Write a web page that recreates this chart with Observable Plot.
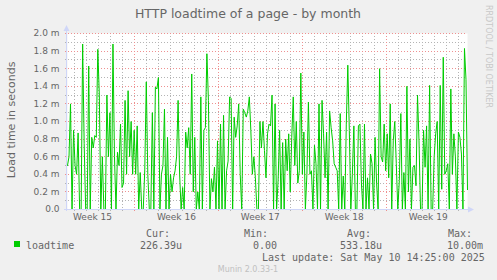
<!DOCTYPE html>
<html><head><meta charset="utf-8">
<script src="https://cdn.jsdelivr.net/npm/d3@7"></script>
<script src="https://cdn.jsdelivr.net/npm/@observablehq/plot@0.6"></script>
<style>
html,body{margin:0;padding:0;background:#f0f0f0;overflow:hidden;}
#chart{width:497px;height:280px;}
svg{display:block;}
</style></head><body><div id="chart"></div>
<script>
// ---- chart text ----
const title = "HTTP loadtime of a page - by month";
const yLabel = "Load time in seconds";
const seriesName = "loadtime";
const watermark = "RRDTOOL / TOBI OETIKER";
const statHeaders = ["Cur:", "Min:", "Avg:", "Max:"];
const statValues = ["226.39u", "0.00", "533.18u", "10.00m"];
const lastUpdate = "Last update: Sat May 10 14:25:00 2025";
const version = "Munin 2.0.33-1";

// ---- time axis ----
const start = new Date(2025, 3, 7, 10, 0);
const stepMinutes = 182;
const weekLabels = ["Week 15", "Week 16", "Week 17", "Week 18", "Week 19"];
const weekLabelTimes = [new Date(2025,3,9,12), new Date(2025,3,16,12), new Date(2025,3,23,12), new Date(2025,3,30,12), new Date(2025,4,7,12)];
const weekLines = [new Date(2025,3,13), new Date(2025,3,20), new Date(2025,3,27), new Date(2025,4,4)];

// ---- y axis ticks (milliseconds) ----
const yTicks = [0, 0.2, 0.4, 0.6, 0.8, 1.0, 1.2, 1.4, 1.6, 1.8, 2.0];
const yMinor = [0.1, 0.3, 0.5, 0.7, 0.9, 1.1, 1.3, 1.5, 1.7, 1.9];

// ---- series: loadtime in ms ----
const loadtime = [
 0.5,0.6,1.2,0,0.9,0.5,0.4,0.87,0,0,
 1.88,0.75,0,0,1.63,0,0.82,0.7,0.84,0.82,
 1.82,1.3,0,0.6,0,0,1.3,0.6,1.1,0,
 1.88,0.6,0,0.65,0.5,0.97,0.25,0.3,1.24,0.4,
 1.35,0.6,1.0,0.4,0.9,
 0.4,0.95,0,0.42,0,0,0.45,1.45,0.4,0,
 0,1.1,0,1.39,1.37,1.5,0,0.4,0.5,1.14,
 0,0.82,0,0.4,0.2,0.36,0.44,0.6,1.24,0.4,
 0,0.25,0,0.88,0.7,0.93,0.4,1.54,0.2,0.82,
 0,0.2,0,1.28,
 0,0.9,0.93,1.77,1.24,0,0.35,0.2,0.48,0,
 0.78,0,0.97,0,1.07,0,0.44,0.55,1.28,1.26,
 0,1.05,0.82,0.95,1.2,0.4,0,1.14,1.1,1.05,
 1.12,1.28,0.9,0.4,0.6,0.36,0,0,1.0,0.7,
 1.0,0.67,0.36,0.86,0.97,
 0.95,1.3,0,1.2,0,0.33,0.9,0,0.76,0,
 0.8,0.44,0.86,0.2,0.82,1.28,0.5,1.0,0.3,0.44,
 1.55,0.4,0.88,0,0.4,1.22,0.4,0.44,0,0.73,
 0.52,0,1.2,0,1.24,0.86,0.36,0.88,0,1.12,
 0.93,0.78,0.52,0.48,0.44,0,
 1.09,0,0.38,0,0.97,1.64,0.9,0,0.4,0.95,
 0,0,0.95,0.97,0.29,0,0.97,0,0.36,0,
 0.63,0.52,0,0.82,0.3,0,1.6,0.6,0.54,0.97,
 0.44,0.86,0.36,1.2,0,0.78,1.0,0.52,0,0.33,
 1.09,0,0.42,0,1.4,
 0.2,0.8,0,0.48,0.5,0.27,1.3,0.78,0,0,
 0.9,0.48,0.95,0,1.41,0,0,0.6,0.86,1.0,
 0,1.41,0.23,1.73,0.4,0.44,0.52,0,1.37,0.4,
 0.86,0.6,0,0.88,0.82,0.63,0,1.83,1.48,0.226
];

const data = loadtime.map((v, i) => ({t: new Date(+start + i * stepMinutes * 60000), v}));
const end = data[data.length - 1].t;
const dayLines = d3.timeDay.range(d3.timeDay.ceil(start), end).filter(d => !weekLines.some(w => +w === +d));

const W = 497, H = 280, mL = 67, mR = 30, mT = 33, mB = 71;
const gridGray = "#b4b4b4", gridRed = "#ee9090", axisCol = "#cfd6f8", font = "#666666";
const gridStyle = {strokeDasharray: "1,2", shapeRendering: "crispEdges"};

const plot = Plot.plot({
  width: W, height: H,
  marginLeft: mL, marginRight: mR, marginTop: mT, marginBottom: mB,
  style: {background: "#f0f0f0", fontFamily: "'DejaVu Sans', sans-serif", color: font, overflow: "visible"},
  x: {type: "time", domain: [start, end]},
  y: {domain: [0, 2]},
  marks: [
    Plot.frame({fill: "white", stroke: null}),
    Plot.ruleX(dayLines, {stroke: gridGray, ...gridStyle, insetBottom: -2}),
    Plot.ruleY(yMinor, {stroke: gridGray, ...gridStyle, insetLeft: -2}),
    Plot.ruleY(yTicks.filter(d => d > 0), {stroke: gridRed, ...gridStyle, insetLeft: -2}),
    Plot.ruleX(weekLines, {stroke: gridRed, ...gridStyle, insetBottom: -2}),
    Plot.line(data, {x: "t", y: "v", stroke: "#00cc00", strokeWidth: 1}),
    Plot.axisY({ticks: yTicks, tickFormat: d => d === 0 ? "0.0" : d.toFixed(1) + " m", tickSize: 0, tickPadding: 8, fontSize: 9, label: null}),
    Plot.axisX({ticks: weekLabelTimes, tickFormat: d => weekLabels[weekLabelTimes.findIndex(t => +t === +d)], tickSize: 0, tickPadding: 4.5, fontSize: 9, label: null})
  ]
});

const svg = d3.select(plot);
const x0 = mL, x1 = W - mR, y0 = mT, y1 = H - mB;
// axes + arrows
svg.append("line").attr("x1", x0 - 0.5).attr("x2", x0 - 0.5).attr("y1", y1 + 2).attr("y2", y0 - 3).attr("stroke", axisCol);
svg.append("line").attr("x1", x0 - 3).attr("x2", x1 + 3).attr("y1", y1 + 0.5).attr("y2", y1 + 0.5).attr("stroke", axisCol);
svg.append("path").attr("d", `M${x0-3.5},${y0-2} L${x0+2.5},${y0-2} L${x0-0.5},${y0-8} Z`).attr("fill", axisCol);
svg.append("path").attr("d", `M${x1+1},${y1-2.5} L${x1+1},${y1+3.5} L${x1+7},${y1+0.5} Z`).attr("fill", axisCol);

function txt(x, y, s, opts = {}) {
  const t = svg.append("text").attr("x", x).attr("y", y)
    .attr("text-anchor", opts.anchor || "start")
    .attr("font-family", opts.family || "'DejaVu Sans'")
    .attr("font-size", opts.size || 10)
    .attr("fill", opts.fill || font).text(s);
  if (opts.transform) t.attr("transform", opts.transform);
  return t;
}
// title
txt(248, 17.5, title, {anchor: "middle", size: 12.5});
// y label
txt(0, 0, yLabel, {anchor: "middle", size: 11, transform: "translate(15,120) rotate(-90)"});
// watermark
txt(0, 0, watermark, {anchor: "start", size: 8, fill: "#c8c8c8", transform: "translate(485.5,5) rotate(90)"});

// legend
const mono = "'DejaVu Sans Mono', monospace";
svg.append("rect").attr("x", 14).attr("y", 241).attr("width", 6).attr("height", 6).attr("fill", "#00cc00");
txt(26, 249, seriesName, {family: mono});
const headX = [146, 244, 347, 448];
const valX = [140, 253, 340, 447];
statHeaders.forEach((h, i) => txt(headX[i], 237, h, {family: mono}));
statValues.forEach((v, i) => txt(valX[i], 249, v, {family: mono}));
txt(262, 261, lastUpdate, {family: mono});
txt(248, 272.3, version, {anchor: "middle", size: 8, fill: "#c0c0c0"});

document.getElementById("chart").appendChild(plot);
</script></body></html>
